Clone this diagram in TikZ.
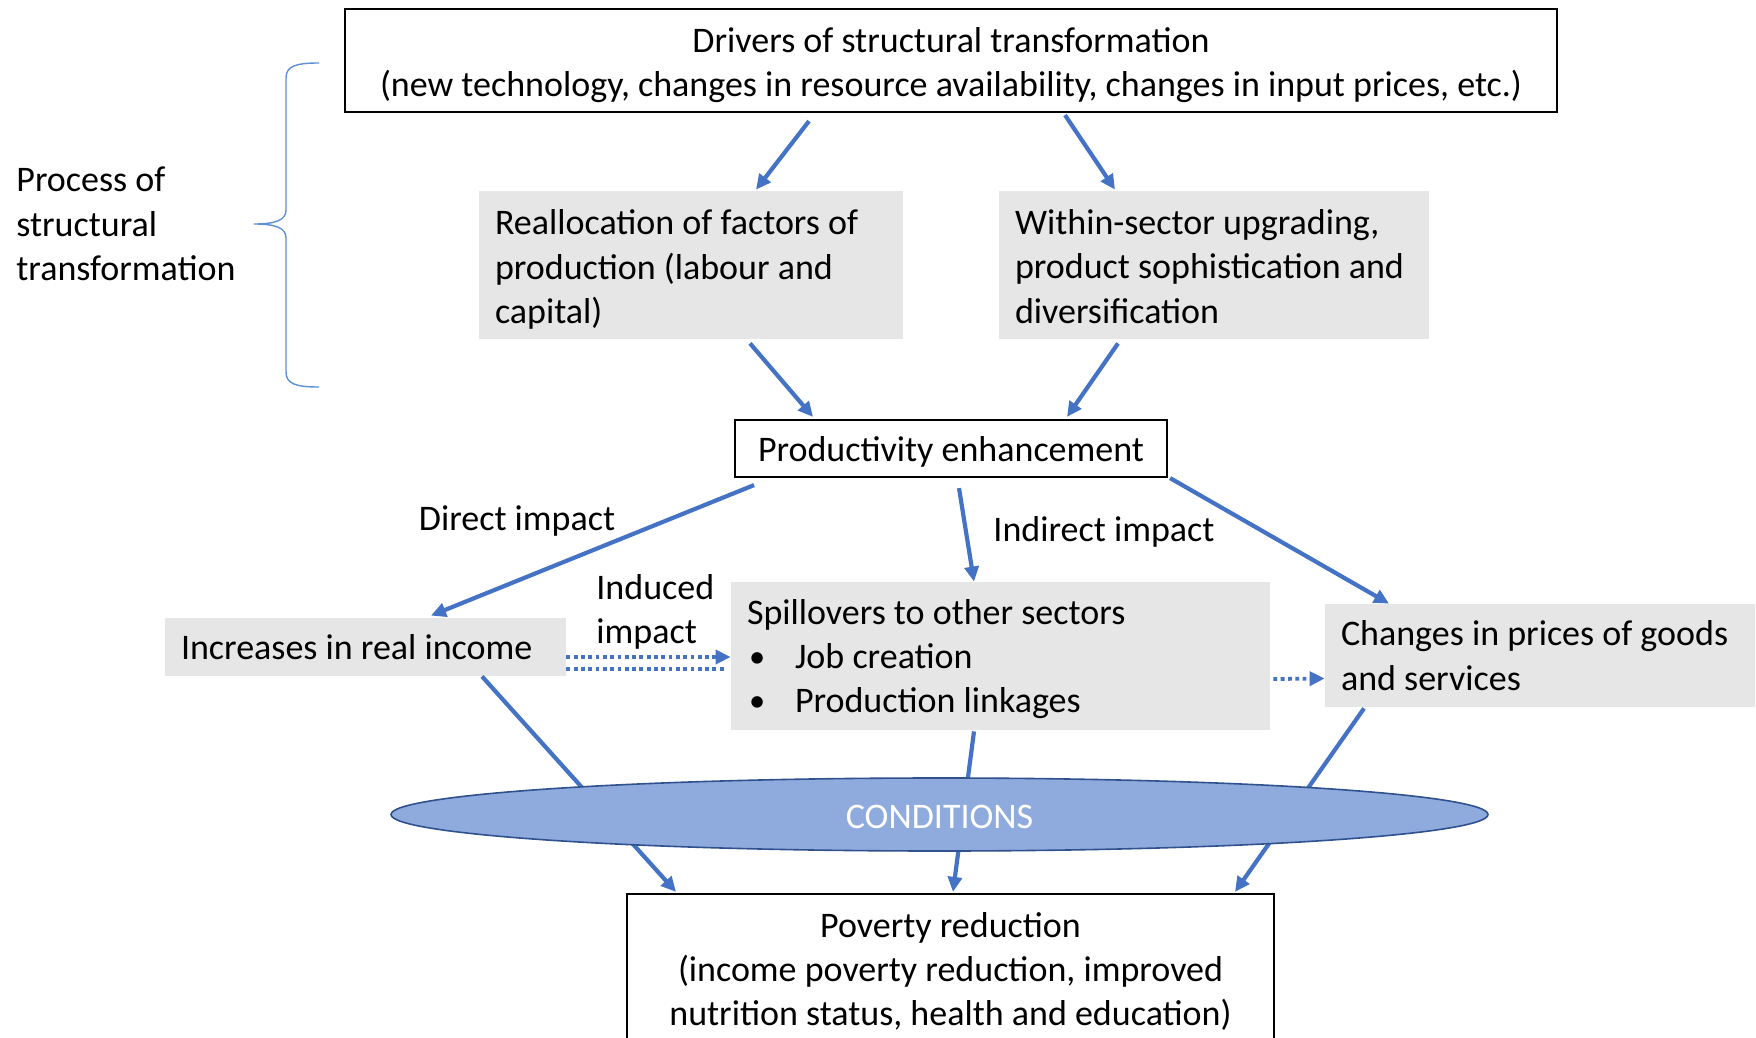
\documentclass[tikz,border=0pt]{standalone}
\usepackage{graphicx}
\usepackage{fontspec}
\setmainfont{Carlito}
\usetikzlibrary{arrows.meta,calc,shapes.geometric}
\definecolor{arrowblue}{HTML}{4472C4}
\definecolor{boxgray}{HTML}{E7E6E6}
\definecolor{ellfill}{HTML}{8FAADC}
\definecolor{elldraw}{HTML}{2F528F}
\definecolor{bracecol}{HTML}{5B8FD6}
\newcommand{\bulletitem}[1]{\hspace*{1pt}\makebox[23pt][l]{\raisebox{0.5pt}{\scalebox{0.9}{•}}}#1}
\begin{document}
\begin{tikzpicture}[x=0.5pt,y=-0.5pt,
  every node/.style={font=\fontsize{18}{22.2}\selectfont, inner sep=0pt},
  outlinebox/.style={draw=black, line width=1.1pt},
  graybox/.style={fill=boxgray},
  txt/.style={align=left, anchor=west},
  ctxt/.style={align=center},
  arr/.style={draw=arrowblue, line width=2.1pt, -{Triangle[length=7.5pt,width=7pt]}},
  dotline/.style={draw=arrowblue, line width=1.9pt, dash pattern=on 1.9pt off 1.75pt},
  dotarr/.style={dotline, -{Triangle[length=7.5pt,width=7pt]}},
]
\useasboundingbox (0,0) rectangle (1756,1038);
\clip (0,0) rectangle (1756,1038);

% boxes and their texts
\node[outlinebox, minimum width=606pt, minimum height=51.5pt] (drivers) at (951,60.5) {};
\node[ctxt] (driversT) at ($(drivers.center)+(0,4.5)$)
  {Drivers of structural transformation\\(new technology, changes in resource availability, changes in input prices, etc.)};

\node[graybox, minimum width=212pt, minimum height=74pt] (realloc) at (691,265) {};
\node[txt] (reallocT) at ($(realloc.west)+(16,4.5)$)
  {Reallocation of factors of\\production (labour and\\capital)};

\node[graybox, minimum width=215pt, minimum height=74pt] (within) at (1214,265) {};
\node[txt] (withinT) at ($(within.west)+(16,1.5)$)
  {Within-sector upgrading,\\product sophistication and\\diversification};

\node[outlinebox, minimum width=216pt, minimum height=28.5pt] (prod) at (951,448.5) {};
\node[ctxt] (prodT) at ($(prod.center)+(0,3.5)$) {Productivity enhancement};

\node[graybox, minimum width=200.5pt, minimum height=29pt] (incr) at (365.5,647) {};
\node[txt] (incrT) at ($(incr.west)+(16,0)$) {Increases in real income};

\node[graybox, minimum width=269.5pt, minimum height=74pt] (spill) at (1000.5,656) {};
\node[txt] (spillT) at ($(spill.west)+(16,3)$)
  {Spillovers to other sectors\\
   \bulletitem{Job creation}\\
   \bulletitem{Production linkages}};

\node[graybox, minimum width=215pt, minimum height=51.5pt] (changes) at (1540,655.5) {};
\node[txt] (changesT) at ($(changes.west)+(16,0)$)
  {Changes in prices of goods\\and services};

\node[outlinebox, minimum width=323.5pt, minimum height=75pt] (poverty) at (950.5,969) {};
\node[ctxt] (povertyT) at ($(poverty.center)+(0,2.5)$)
  {Poverty reduction\\(income poverty reduction, improved\\nutrition status, health and education)};

% side label and brace
\node[txt] (process) at (16,224) {Process of\\structural\\transformation};
\draw[bracecol, line width=0.7pt] (319,63) .. controls (296,63) and (286,66) .. (286,78)
  -- (286,210) .. controls (286,220) and (276,224) .. (254,224)
  .. controls (276,224) and (286,228) .. (286,238)
  -- (286,372) .. controls (286,384) and (296,387) .. (319,387);

% impact labels
\node (direct) at (517,521.5) {Direct impact};
\node (indirect) at (1104,531.5) {Indirect impact};
\node[txt] (induced) at (596,612) {Induced\\impact};

% connectors
\draw[arr] ($(drivers.south)+(-142,8)$) -- ($(realloc.north)+(65,-1)$);
\draw[arr] ($(drivers.south)+(114,2)$) -- ($(within.north)+(-99,-1)$);
\draw[arr] ($(realloc.south)+(59,4)$) -- ($(prod.north)+(-138,-2)$);
\draw[arr] ($(within.south)+(-96,4)$) -- ($(prod.north)+(116,-2)$);
\draw[arr] ($(prod.south)+(-197,7)$) -- ($(incr.north)+(65.5,-2)$);
\draw[arr] ($(prod.south)+(8,10)$) -- ($(spill.north)+(-26.5,0)$);
\draw[arr] ($(prod.south east)+(2,0)$) -- ($(changes.north)+(-151,0)$);
\draw[arr] ($(incr.south)+(116.5,0)$) -- ($(poverty.north)+(-274.5,-1)$);
\draw[arr] ($(spill.south)+(-26.5,1)$) -- ($(poverty.north)+(2.5,-1)$);
\draw[arr] ($(changes.south)+(-176,1)$) -- ($(poverty.north)+(284.5,-1)$);

\draw[dotarr] ($(spill.west -| incr.east)+(0,1)$) -- ($(spill.west)+(0,1)$);
\draw[dotline] ($(spill.west -| incr.east)+(0,13)$) -- ($(spill.west)+(-4,13)$);
\draw[dotarr] ($(spill.east)+(3,23)$) -- ($(changes.west)+(0,23)$);

% conditions ellipse over the connectors
\node[ellipse, fill=ellfill, draw=elldraw, line width=0.8pt, minimum width=548.5pt,
  minimum height=36.5pt] (cond) at (939.5,814.5) {};
\node[text=white] (condT) at ($(cond.center)+(0,2.5)$) {CONDITIONS};
\end{tikzpicture}
\end{document}
